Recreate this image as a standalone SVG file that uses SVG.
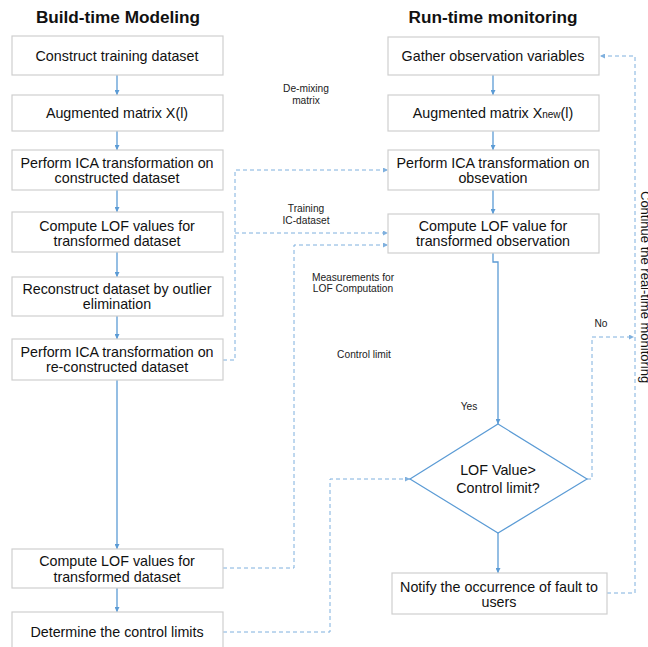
<svg xmlns="http://www.w3.org/2000/svg" width="648" height="647" viewBox="0 0 648 647">
<defs>
<marker id="ah" viewBox="0 0 6 6" refX="6" refY="3" markerWidth="5" markerHeight="5" orient="auto" markerUnits="userSpaceOnUse">
<path d="M0,0 L6,3 L0,6 Z" fill="#5b9bd5"/>
</marker>
<marker id="ahd" viewBox="0 0 6 6" refX="6" refY="3" markerWidth="5" markerHeight="5" orient="auto" markerUnits="userSpaceOnUse">
<path d="M0,0 L6,3 L0,6 Z" fill="#7fb0de"/>
</marker>
<style>
.box{fill:#ffffff;stroke:#cfcfcf;stroke-width:1.2}
.t{font-family:"Liberation Sans",Arial,sans-serif;font-size:14.3px;fill:#111;text-anchor:middle}
.h{font-family:"Liberation Sans",Arial,sans-serif;font-size:17.2px;font-weight:bold;fill:#111;text-anchor:middle}
.l{font-family:"Liberation Sans",Arial,sans-serif;font-size:10.2px;fill:#222;text-anchor:middle}
.s{fill:none;stroke:#5b9bd5;stroke-width:1.3;marker-end:url(#ah)}
.da{fill:none;stroke:#7fb0de;stroke-width:1;stroke-dasharray:4,3;marker-end:url(#ahd)}
</style>
</defs>
<rect width="648" height="647" fill="#ffffff"/>
<text class="h" x="118" y="23">Build-time Modeling</text>
<text class="h" x="493" y="23">Run-time monitoring</text>

<g id="connectors">
<path class="s" d="M117,75 V95"/>
<path class="s" d="M117,131 V150"/>
<path class="s" d="M117,190 V212"/>
<path class="s" d="M117,252 V277"/>
<path class="s" d="M117,316 V339"/>
<path class="s" d="M117,380 V549"/>
<path class="s" d="M117,588 V612"/>
<path class="s" d="M493,75 V95"/>
<path class="s" d="M493,131 V150"/>
<path class="s" d="M493,190 V214"/>
<path class="s" d="M493,253 V262 H498 V424"/>
<path class="s" d="M498,533 V573"/>
<path class="da" d="M223,360 H235 V170 H388"/>
<path class="da" d="M235,233 H388"/>
<path class="da" d="M223,568 H294 V245 H388"/>
<path class="da" d="M223,632 H330 V479 H410"/>
<path class="da" d="M587,479 H592 V337 H634"/>
<path class="da" d="M607,593 H635 V56 H600"/>
</g>

<g id="n1"><rect class="box" x="12" y="36" width="211" height="39"/><text class="t" x="117" y="61">Construct training dataset</text></g>
<g id="n2"><rect class="box" x="12" y="95" width="211" height="36"/><text class="t" x="117" y="118">Augmented matrix X(l)</text></g>
<g id="n3"><rect class="box" x="12" y="150" width="211" height="40"/><text class="t" x="117" y="168">Perform ICA transformation on</text><text class="t" x="117" y="183">constructed dataset</text></g>
<g id="n4"><rect class="box" x="12" y="212" width="211" height="40"/><text class="t" x="117" y="231">Compute LOF values for</text><text class="t" x="117" y="246">transformed dataset</text></g>
<g id="n5"><rect class="box" x="12" y="277" width="211" height="39"/><text class="t" x="117" y="294">Reconstruct dataset by outlier</text><text class="t" x="117" y="309">elimination</text></g>
<g id="n6"><rect class="box" x="12" y="339" width="211" height="41"/><text class="t" x="117" y="357">Perform ICA transformation on</text><text class="t" x="117" y="372">re-constructed dataset</text></g>
<g id="n7"><rect class="box" x="12" y="549" width="211" height="39"/><text class="t" x="117" y="566">Compute LOF values for</text><text class="t" x="117" y="582">transformed dataset</text></g>
<g id="n8"><rect class="box" x="12" y="612" width="211" height="45"/><text class="t" x="117" y="637">Determine the control limits</text></g>

<g id="r1"><rect class="box" x="388" y="37" width="211" height="38"/><text class="t" x="493" y="61">Gather observation variables</text></g>
<g id="r2"><rect class="box" x="388" y="95" width="211" height="36"/><text class="t" x="493" y="118">Augmented matrix X<tspan font-size="10">new</tspan>(l)</text></g>
<g id="r3"><rect class="box" x="388" y="150" width="211" height="40"/><text class="t" x="493" y="168">Perform ICA transformation on</text><text class="t" x="493" y="183">obsevation</text></g>
<g id="r4"><rect class="box" x="388" y="214" width="211" height="39"/><text class="t" x="493" y="231">Compute LOF value for</text><text class="t" x="493" y="246">transformed observation</text></g>
<g id="dec"><path d="M498,424 L587,479 L498,533 L410,479 Z" fill="#ffffff" stroke="#5b9bd5" stroke-width="1.2"/><text class="t" x="498" y="475">LOF Value&gt;</text><text class="t" x="498" y="493">Control limit?</text></g>
<g id="r5"><rect class="box" x="392" y="573" width="215" height="41"/><text class="t" x="499" y="592">Notify the occurrence of fault to</text><text class="t" x="499" y="607">users</text></g>

<g id="labels">
<text class="l" x="306" y="92">De-mixing</text>
<text class="l" x="306" y="104">matrix</text>
<text class="l" x="306" y="212">Training</text>
<text class="l" x="306" y="224">IC-dataset</text>
<text class="l" x="353" y="281">Measurements for</text>
<text class="l" x="353" y="292">LOF Computation</text>
<text class="l" x="364" y="358">Control limit</text>
<text class="l" x="469" y="410">Yes</text>
<text class="l" x="601" y="327">No</text>
<text font-family="'Liberation Sans',Arial,sans-serif" font-size="13" fill="#111" transform="translate(641,191) rotate(90)">Continue the real-time monitoring</text>
</g>
</svg>
